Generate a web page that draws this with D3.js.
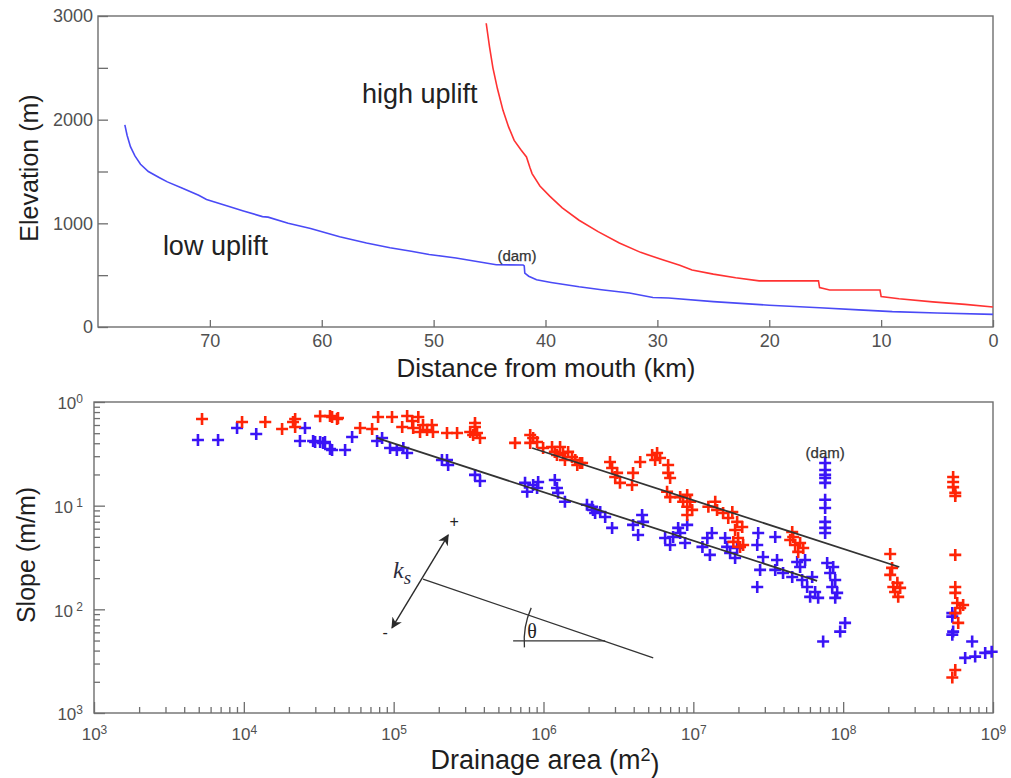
<!DOCTYPE html>
<html><head><meta charset="utf-8">
<script src="https://cdn.jsdelivr.net/npm/d3@7"></script>
<style>
body{margin:0;background:#fff;}
svg{display:block;font-family:"Liberation Sans",Arial,sans-serif;}
</style></head><body>
<svg id="c" width="1011" height="778"></svg>
<script>
// ---------- DATA: top panel (distance km, elevation m) ----------
const lowUpliftProfile = [
 [77.6,1950],[77.4,1850],[77.1,1740],[76.7,1650],[76.2,1570],[75.5,1500],[74.5,1440],[73.8,1400],
 [72.5,1340],[71.0,1270],[70.3,1230],[68.5,1170],[67.0,1120],[65.3,1065],[64.8,1060],[63.0,1000],
 [61.0,950],[58.4,870],[56.0,810],[53.9,765],[52.0,730],[50.4,700],[48.0,665],[46.0,630],[44.4,600],
 [42.0,598],[41.9,590],[41.85,520],[41.5,490],[40.8,455],[39.5,430],[37.0,388],[35.0,360],[32.5,328],
 [30.4,285],[29.0,280],[25.0,245],[20.0,210],[15.5,185],[12.0,165],[9.0,148],[5.0,135],[0,122]
];
const highUpliftProfile = [
 [45.3,2930],[45.0,2700],[44.7,2500],[44.3,2300],[43.8,2090],[43.3,1930],[42.8,1800],[42.2,1710],
 [41.7,1640],[41.4,1540],[41.2,1480],[40.5,1360],[39.6,1260],[38.5,1150],[37.0,1030],[35.3,920],
 [33.4,810],[31.5,720],[29.6,650],[28.0,595],[26.9,550],[25.0,510],[23.0,475],[20.9,445],[15.6,445],
 [15.5,380],[14.6,357],[10.1,357],[10.0,295],[8.4,272],[5.4,242],[2.5,218],[0,193]
];
const distTicks = [70,60,50,40,30,20,10,0];
const elevTicks = [0,500,1000,1500,2000,2500,3000];
const elevLabelled = [0,1000,2000,3000];

// ---------- DATA: bottom panel (drainage area m2, slope m/m) ----------
const redPoints = [
 [5.26e3,0.686],[9.73e3,0.641],[1.39e4,0.641],[1.80e4,0.549],[2.13e4,0.641],[2.20e4,0.686],[2.20e4,0.574],
 [3.23e4,0.730],[3.76e4,0.733],[3.88e4,0.716],[4.19e4,0.686],[4.25e4,0.700],[5.97e4,0.561],[7.18e4,0.549],
 [7.87e4,0.716],[9.75e4,0.716],[1.14e5,0.574],[1.23e5,0.733],[1.33e5,0.656],[1.46e5,0.716],[1.35e5,0.561],
 [1.57e5,0.600],[1.67e5,0.537],[1.50e5,0.514],
 [1.80e5,0.600],[1.83e5,0.514],[2.27e5,0.502],[2.65e5,0.502],[3.24e5,0.514],[3.49e5,0.574],[3.49e5,0.627],
 [3.60e5,0.502],[3.77e5,0.450],[3.39e5,0.481],
 [6.46e5,0.403],[8.15e5,0.481],[8.53e5,0.450],[8.15e5,0.403],[9.06e5,0.411],[9.94e5,0.360],[1.14e6,0.368],
 [1.19e6,0.330],[1.29e6,0.368],[1.35e6,0.322],[1.46e6,0.330],[1.55e6,0.295],[1.63e6,0.276],[1.68e6,0.247],
 [1.75e6,0.258],[1.23e6,0.308],[1.39e6,0.276],[1.81e6,0.258],
 [2.78e6,0.264],[2.87e6,0.231],[3.01e6,0.189],[3.24e6,0.166],[3.10e6,0.207],[3.90e6,0.158],[3.96e6,0.207],
 [4.42e6,0.264],[5.31e6,0.308],[5.73e6,0.322],[5.56e6,0.276],[6.00e6,0.288],[6.79e6,0.247],[6.79e6,0.207],
 [7.00e6,0.185],[6.68e6,0.136],[7.00e6,0.121],[8.17e6,0.121],[8.55e6,0.109],[9.10e6,0.127],[9.10e6,0.0975],
 [9.82e6,0.091],[9.53e6,0.109],[9.10e6,0.0813],[1.26e7,0.0975],[1.40e7,0.109],[1.44e7,0.091],[1.58e7,0.0851],
 [1.71e7,0.076],[1.82e7,0.0869],[1.96e7,0.0697],[1.90e7,0.0583],[1.99e7,0.0488],[2.05e7,0.040],[1.85e7,0.0447],
 [2.12e7,0.0623],[2.15e7,0.0418],
 [4.57e7,0.0557],[4.43e7,0.0467],[4.78e7,0.0418],[5.01e7,0.0358],[5.41e7,0.0391],[4.64e7,0.0499],[5.16e7,0.0437],
 [2.06e8,0.0342],[2.12e8,0.0251],[2.06e8,0.0215],[2.16e8,0.0164],[2.30e8,0.018],[2.40e8,0.0161],[2.22e8,0.0147],
 [2.33e8,0.0132],
 [5.42e8,0.189],[5.42e8,0.169],[5.42e8,0.151],[5.60e8,0.133],[5.60e8,0.124],[5.60e8,0.0335],[5.60e8,0.0164],
 [5.60e8,0.0144],[5.77e8,0.0115],[6.04e8,0.0103],[6.32e8,0.011],[5.60e8,0.0092],[5.86e8,0.0074],
 [5.60e8,0.0026],[5.35e8,0.0022]
];
const bluePoints = [
 [4.94e3,0.430],[6.73e3,0.430],[9.01e3,0.561],[1.21e4,0.491],[2.56e4,0.561],[2.37e4,0.421],[2.90e4,0.421],
 [3.23e4,0.411],[3.48e4,0.411],[3.88e4,0.344],[2.99e4,0.411],[3.38e4,0.403],[3.76e4,0.352],[4.74e4,0.344],
 [5.28e4,0.459],[7.75e4,0.421],[8.37e4,0.450],[9.46e4,0.360],[1.05e5,0.344],[1.16e5,0.360],[1.23e5,0.322],
 [2.10e5,0.276],[2.31e5,0.247],[2.27e5,0.276],[3.49e5,0.198],[3.77e5,0.173],
 [7.53e5,0.166],[7.78e5,0.136],[8.53e5,0.158],[9.21e5,0.169],[9.06e5,0.148],[1.19e6,0.177],[1.23e6,0.148],
 [1.25e6,0.133],[1.39e6,0.109],[2.11e6,0.0975],[2.21e6,0.0851],
 [1.95e6,0.102],[2.14e6,0.091],[2.39e6,0.0869],[2.58e6,0.0778],[2.87e6,0.061],[3.96e6,0.0652],[4.28e6,0.0521],
 [4.55e6,0.0813],[4.62e6,0.0697],[6.48e6,0.0488],[7.00e6,0.0418],[7.33e6,0.0499],[7.92e6,0.061],[8.17e6,0.0545],
 [9.10e6,0.0652],[8.81e6,0.0437],[1.15e7,0.040],[1.24e7,0.0488],[1.29e7,0.0335],[1.33e7,0.0545],[1.63e7,0.0488],
 [1.68e7,0.040],[1.76e7,0.035],[1.90e7,0.0313],[1.96e7,0.0391],
 [2.71e7,0.0545],[2.67e7,0.0418],[3.52e7,0.0499],[2.92e7,0.032],[2.79e7,0.024],[3.62e7,0.0299],[3.52e7,0.024],
 [3.97e7,0.0224],[4.57e7,0.0205],[4.93e7,0.0286],[5.16e7,0.0256],[5.57e7,0.0299],[5.32e7,0.0192],[5.75e7,0.0164],
 [6.21e7,0.0205],[6.02e7,0.0132],[6.81e7,0.0129],[6.50e7,0.0147],[2.67e7,0.0164],
 [7.58e7,0.258],[7.58e7,0.221],[7.58e7,0.198],[7.58e7,0.185],[7.58e7,0.166],[7.58e7,0.114],[7.58e7,0.095],
 [7.58e7,0.0697],[7.58e7,0.061],[7.58e7,0.0545],
 [7.82e7,0.028],[8.58e7,0.0256],[8.18e7,0.0224],[8.85e7,0.0192],[8.45e7,0.0164],[9.12e7,0.0144],[8.85e7,0.0129],
 [9.55e7,0.0061],[1.03e8,0.0074],[7.35e7,0.0049],
 [5.35e8,0.0092],[5.35e8,0.0085],[5.42e8,0.0061],[5.35e8,0.0057],[7.26e8,0.0049],[6.52e8,0.0034],
 [7.60e8,0.0035],[8.87e8,0.0038],[9.8e8,0.0039]
];
const blueFit = [[7.7e4,0.45],[6.7e7,0.0188]];
const redFit = [[8.4e5,0.36],[2.37e8,0.0256]];
const areaTickExp = ["3","4","5","6","7","8","9"];
const slopeTickExp = ["0","\u00a01","\u00a02","3"]; // as printed (minus signs lost in original)

// schematic (data coordinates of the bottom panel)
const schemaLine = [[1.57e5,0.0196],[5.40e6,0.0034]];
const schemaHoriz = [[6.27e5,0.00496],[2.58e6,0.00496]];
const ksArrow = [[2.31e5,0.0521],[9.75e4,0.00662]];

// ---------- DRAW ----------
const svg = d3.select("#c");
const frameCol = "#6e6e6e", tickTxt = "#505050", titleCol = "#1e1e1e";

// ===== TOP PANEL =====
const xT = d3.scaleLinear().domain([80,0]).range([98,993]);
const yT = d3.scaleLinear().domain([0,3000]).range([327,16]);
const topG = svg.append("g");

topG.append("g").attr("transform","translate(0,327)")
  .call(d3.axisBottom(xT).tickValues(distTicks).tickSize(-7).tickPadding(7))
  .call(g=>{g.select(".domain").remove();
    g.selectAll("line").attr("stroke",frameCol).attr("stroke-width",1.3);
    g.selectAll("text").attr("fill",tickTxt).attr("font-size",18).attr("font-family","Liberation Sans, Arial");});
topG.append("g").attr("transform","translate(98,0)")
  .call(d3.axisLeft(yT).tickValues(elevTicks).tickSize(-10).tickPadding(5)
     .tickFormat(d=>elevLabelled.includes(d)?d:""))
  .call(g=>{g.select(".domain").remove();
    g.selectAll("line").attr("stroke",frameCol).attr("stroke-width",1.3);
    g.selectAll("text").attr("fill",tickTxt).attr("font-size",18).attr("font-family","Liberation Sans, Arial");});
topG.append("rect").attr("x",98).attr("y",16).attr("width",895).attr("height",311)
  .attr("fill","none").attr("stroke",frameCol).attr("stroke-width",1.4);

const lineT = d3.line().x(d=>xT(d[0])).y(d=>yT(d[1]));
topG.append("path").datum(lowUpliftProfile).attr("d",lineT).attr("fill","none")
  .attr("stroke","#4a4af6").attr("stroke-width",1.6);
topG.append("path").datum(highUpliftProfile).attr("d",lineT).attr("fill","none")
  .attr("stroke","#ff3232").attr("stroke-width",1.6);

topG.append("text").attr("x",xT(56.4)).attr("y",yT(2161)).text("high uplift")
  .attr("font-size",27).attr("fill","#222");
topG.append("text").attr("x",xT(74.2)).attr("y",yT(695)).text("low uplift")
  .attr("font-size",27).attr("fill","#222");
topG.append("text").attr("x",xT(44.3)).attr("y",yT(637)).text("(dam)")
  .attr("font-size",15).attr("fill","#333").attr("stroke","#333").attr("stroke-width",0.25);

topG.append("text").attr("transform","translate(38,168) rotate(-90)").attr("text-anchor","middle")
  .text("Elevation (m)").attr("font-size",25).attr("fill",titleCol);
topG.append("text").attr("x",546).attr("y",377).attr("text-anchor","middle")
  .text("Distance from mouth (km)").attr("font-size",26).attr("fill",titleCol);

// ===== BOTTOM PANEL =====
const xB = d3.scaleLog().domain([1e3,1e9]).range([94,993]);
const yB = d3.scaleLog().domain([1e-3,1]).range([713,402]);
const bot = svg.append("g");

const isDecade = v=>Math.abs(Math.log10(v)-Math.round(Math.log10(v)))<1e-9;
const xMajors = xB.ticks().filter(isDecade);
const xMinors = xB.ticks().filter(v=>!isDecade(v));
const yMajors = yB.ticks().filter(isDecade);
const yMinors = yB.ticks().filter(v=>!isDecade(v));

function styleTicks(g){g.select(".domain").remove();
  g.selectAll("line").attr("stroke",frameCol).attr("stroke-width",1.3);}

bot.append("g").attr("transform","translate(0,713)")
  .call(d3.axisBottom(xB).tickValues(xMinors).tickSize(-6).tickFormat(""))
  .call(styleTicks);
const xAx = bot.append("g").attr("transform","translate(0,713)")
  .call(d3.axisBottom(xB).tickValues(xMajors).tickSize(-11).tickPadding(15).tickFormat(""))
  .call(styleTicks);
xAx.selectAll(".tick text").each(function(d,i){
  const t=d3.select(this).attr("fill",tickTxt).attr("font-size",17).attr("dy","0.71em");
  t.append("tspan").text("10");
  t.append("tspan").attr("dy","-0.5em").attr("font-size",12).text(areaTickExp[i]);
});
bot.append("g").attr("transform","translate(94,0)")
  .call(d3.axisLeft(yB).tickValues(yMinors).tickSize(-6).tickFormat(""))
  .call(styleTicks);
const yAx = bot.append("g").attr("transform","translate(94,0)")
  .call(d3.axisLeft(yB).tickValues(yMajors).tickSize(-11).tickPadding(11).tickFormat(""))
  .call(styleTicks);
yAx.selectAll(".tick text").each(function(d){
  const e = Math.round(-Math.log10(d));
  const t=d3.select(this).attr("fill",tickTxt).attr("font-size",17).attr("dy","0.4em");
  t.append("tspan").text("10");
  t.append("tspan").attr("dy","-0.5em").attr("font-size",12).text(slopeTickExp[e]);
});
bot.append("rect").attr("x",94).attr("y",402).attr("width",899).attr("height",311)
  .attr("fill","none").attr("stroke",frameCol).attr("stroke-width",1.4);

const plus = "M-6,0H6M0,-6V6";
bot.append("g").selectAll("path").data(bluePoints).join("path")
  .attr("d",plus).attr("transform",d=>`translate(${xB(d[0])},${yB(d[1])})`)
  .attr("stroke","#3a14f6").attr("stroke-width",2.6).attr("fill","none");
bot.append("g").selectAll("path").data(redPoints).join("path")
  .attr("d",plus).attr("transform",d=>`translate(${xB(d[0])},${yB(d[1])})`)
  .attr("stroke","#ff2406").attr("stroke-width",2.6).attr("fill","none");

const lineB = d3.line().x(d=>xB(d[0])).y(d=>yB(d[1]));
[blueFit,redFit].forEach(f=>bot.append("path").datum(f).attr("d",lineB)
  .attr("stroke","#333").attr("stroke-width",1.8).attr("fill","none"));

// schematic
const defs = svg.append("defs");
defs.append("marker").attr("id","ah").attr("viewBox","0 0 10 10").attr("refX",9).attr("refY",5)
  .attr("markerWidth",11).attr("markerHeight",11).attr("markerUnits","userSpaceOnUse")
  .attr("orient","auto-start-reverse")
  .append("path").attr("d","M0,0L10,5L0,10L3,5Z").attr("fill","#2a2a2a");
bot.append("path").datum(schemaLine).attr("d",lineB).attr("stroke","#333").attr("stroke-width",1.3).attr("fill","none");
bot.append("path").datum(schemaHoriz).attr("d",lineB).attr("stroke","#333").attr("stroke-width",1.3).attr("fill","none");
bot.append("path").datum(ksArrow).attr("d",lineB).attr("stroke","#2a2a2a").attr("stroke-width",1.4)
  .attr("fill","none").attr("marker-start","url(#ah)").attr("marker-end","url(#ah)");
const cx = xB(schemaHoriz[1][0]), cy = yB(schemaHoriz[1][1]);
const arcP = d3.path(); arcP.arc(cx,cy,81,Math.PI+0.42,Math.PI-0.08,true);
bot.append("path").attr("d",arcP.toString()).attr("stroke","#333").attr("stroke-width",1.3).attr("fill","none");
bot.append("text").attr("x",xB(8.4e5)).attr("y",yB(0.0053)).attr("text-anchor","middle")
  .attr("font-family","Liberation Serif, DejaVu Serif, serif").attr("font-size",20).attr("fill","#222").text("θ");
const ks = bot.append("text").attr("x",xB(9.9e4)).attr("y",yB(0.0201))
  .attr("font-family","Liberation Serif, DejaVu Serif, serif").attr("font-style","italic")
  .attr("font-size",24).attr("fill","#2c2c3c");
ks.append("tspan").text("k");
ks.append("tspan").attr("dy","0.3em").attr("font-size",19).text("s");
bot.append("text").attr("x",xB(2.53e5)).attr("y",yB(0.0623)).attr("text-anchor","middle")
  .attr("font-size",16).attr("fill","#222").text("+");
bot.append("text").attr("x",xB(8.77e4)).attr("y",yB(0.0053)).attr("text-anchor","middle")
  .attr("font-size",16).attr("fill","#222").text("-");
bot.append("text").attr("x",xB(7.58e7)).attr("y",yB(0.288)).attr("text-anchor","middle")
  .attr("font-size",15).attr("fill","#333").attr("stroke","#333").attr("stroke-width",0.25).text("(dam)");

bot.append("text").attr("transform","translate(35,555) rotate(-90)").attr("text-anchor","middle")
  .text("Slope (m/m)").attr("font-size",25).attr("fill",titleCol);
const xt = bot.append("text").attr("x",545).attr("y",769).attr("text-anchor","middle")
  .attr("font-size",27).attr("fill",titleCol);
xt.append("tspan").text("Drainage area (m");
xt.append("tspan").attr("dy","-0.45em").attr("font-size",18).text("2");
xt.append("tspan").attr("dy","0.45em").text(")");
</script></body></html>
